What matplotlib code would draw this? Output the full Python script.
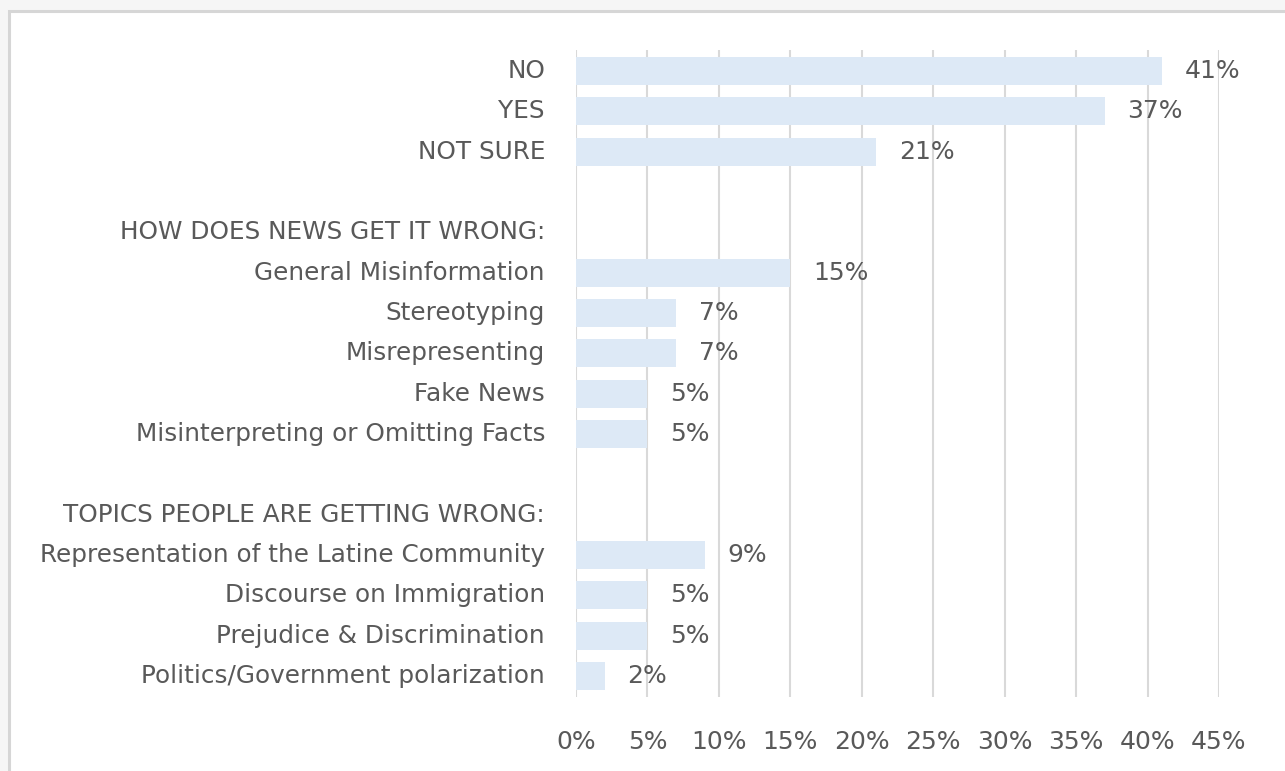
import matplotlib
matplotlib.use("Agg")
import matplotlib.pyplot as plt
from matplotlib.patches import Rectangle

# survey answers, top to bottom; None marks a spacer or a section heading
labels = ["NO", "YES", "NOT SURE", "",
          "HOW DOES NEWS GET IT WRONG:", "General Misinformation", "Stereotyping",
          "Misrepresenting", "Fake News", "Misinterpreting or Omitting Facts", "",
          "TOPICS PEOPLE ARE GETTING WRONG:", "Representation of the Latine Community",
          "Discourse on Immigration", "Prejudice & Discrimination",
          "Politics/Government polarization"]
values = [41, 37, 21, None,
          None, 15, 7, 7, 5, 5, None,
          None, 9, 5, 5, 2]
x_ticks = [0, 5, 10, 15, 20, 25, 30, 35, 40, 45]

W, H = 1285, 771
fig = plt.figure(figsize=(W / 100, H / 100), dpi=100)
fig.patch.set_facecolor("#f6f6f6")

# white card with a grey edge behind the chart
card = Rectangle((9 / W, -0.05), 1.0, 1.05 - 11 / H, transform=fig.transFigure,
                 facecolor="white", edgecolor="#d6d6d6", linewidth=2.2, zorder=-5)
fig.patches.append(card)

x0, x1 = 576, 1219
y_top, y_bot = 50, 697
ax = fig.add_axes([x0 / W, 1 - y_bot / H, (x1 - x0) / W, (y_bot - y_top) / H])
ax.set_facecolor("none")

text_col = "#595959"
label_font = "DejaVu Sans"
num_font = "DejaVu Sans"

ys = list(range(len(labels)))
for y, v in zip(ys, values):
    if v is None:
        continue
    ax.barh(y, v, height=0.7, color="#dde9f6", zorder=2)
    ax.text(v + 1.6, y, f"{v}%", va="center", ha="left", fontsize=18,
            color=text_col, family=num_font, zorder=3)

ax.set_xlim(0, 45)
ax.set_ylim(15.52, -0.52)
ax.set_xticks(x_ticks)
ax.set_xticklabels([f"{t}%" for t in x_ticks], family=num_font, fontsize=18,
                   color=text_col)
ax.tick_params(axis="x", length=0, pad=24)
ax.set_yticks([])
ax.grid(axis="x", color="#d9d9d9", linewidth=1.5, zorder=1)
ax.set_axisbelow(True)
for s in ax.spines.values():
    s.set_visible(False)

# category names to the left of the bars
for y, lab in zip(ys, labels):
    if not lab:
        continue
    ax.annotate(lab, xy=(0, y), xycoords=("axes fraction", "data"),
                xytext=(-31, 0), textcoords="offset pixels",
                ha="right", va="center", fontsize=17.8, color=text_col,
                family=label_font)

fig.savefig("out.png", dpi=100, facecolor=fig.get_facecolor())
